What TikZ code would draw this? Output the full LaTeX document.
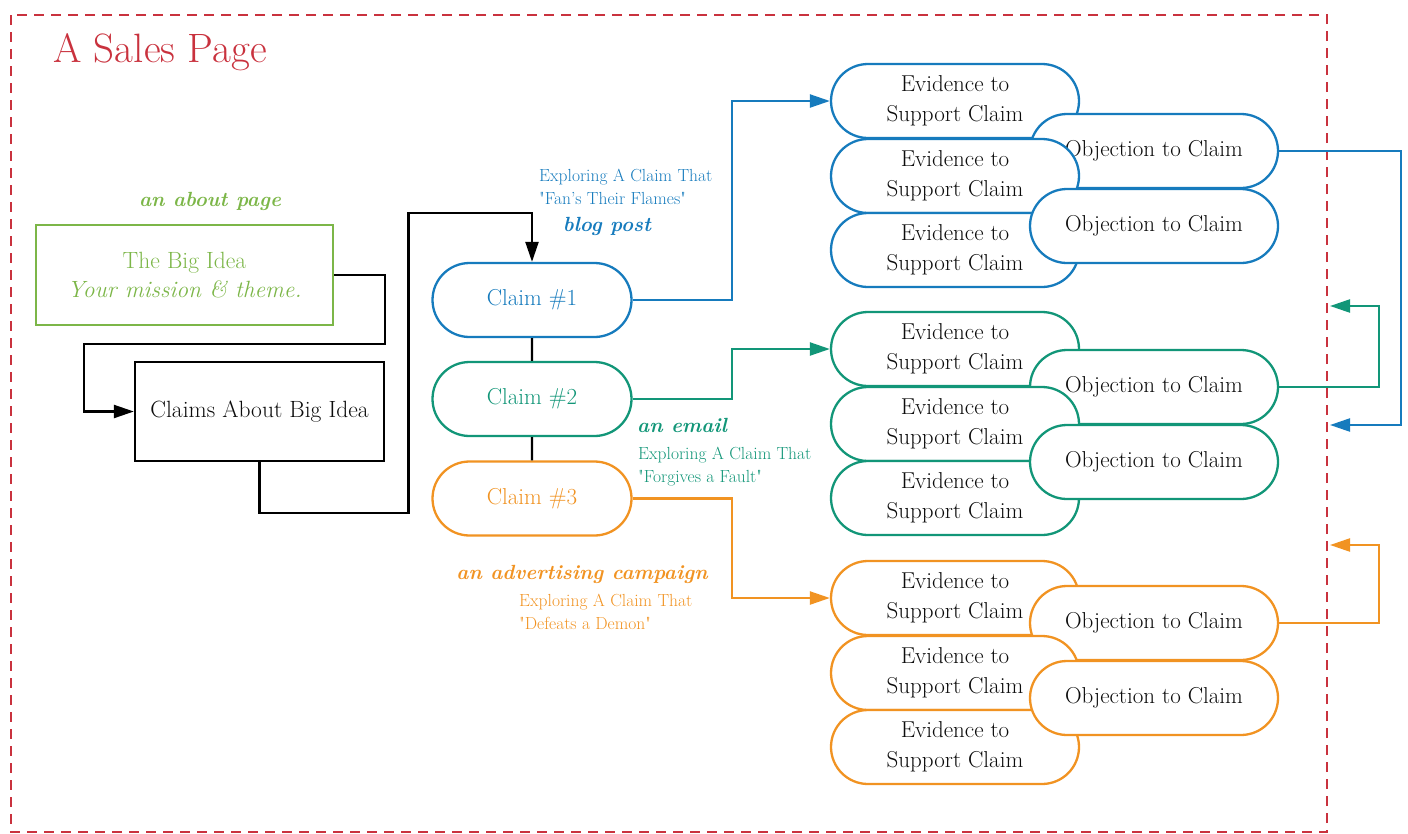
\documentclass[tikz,border=0pt]{standalone}
\usepackage{tikz}
\usetikzlibrary{arrows.meta}
\usetikzlibrary{positioning}
\usetikzlibrary{shapes.misc}
\usetikzlibrary{calc}

\definecolor{cblue}{RGB}{22,123,189}
\definecolor{cteal}{RGB}{18,150,120}
\definecolor{corange}{RGB}{241,147,34}
\definecolor{cgreen}{RGB}{124,182,72}
\definecolor{cred}{RGB}{201,50,62}
\definecolor{ctext}{RGB}{12,12,12}

\tikzset{
  pill/.style={rounded rectangle,fill=white,line width=2.3pt,minimum width=248pt,minimum height=74pt,inner sep=0pt,align=center,text=ctext,font=\fontsize{23}{30}\selectfont},
  claimpill/.style={pill,minimum width=199pt},
  bigbox/.style={rectangle,line width=2.3pt,inner sep=0pt,align=center,font=\fontsize{23.5}{29}\selectfont},
  kind/.style={font=\fontsize{20.5}{24}\selectfont\bfseries\itshape},
  note/.style={align=left,anchor=north west,inner sep=0pt,font=\fontsize{17.5}{22.5}\selectfont},
  link/.style={line width=2.3pt,-{Triangle[length=20pt,width=13pt]}}
}

\begin{document}
\begin{tikzpicture}[line cap=butt,line join=miter,x=1pt,y=-1pt]
\useasboundingbox (0,0) rectangle (1408,833);
\draw[cred,line width=2pt,dash pattern=on 10pt off 7pt] (11,15) rectangle (1327,832);
\node[cred,anchor=west,inner sep=0pt,font=\fontsize{41}{42}\selectfont] (title) at (53,52) {A Sales Page};

% big idea and claims
\node[bigbox,draw=cgreen,text=cgreen,minimum width=297pt,minimum height=100pt] (idea) at (184.5,275) {The Big Idea\\\itshape Your mission \& theme.};
\node[kind,text=cgreen] (about) at (210,201) {an about page};
\node[bigbox,draw=black,text=ctext,minimum width=249pt,minimum height=99pt] (claims) at (259.5,411.5) {Claims About Big Idea};

\node[claimpill,draw=cblue,text=cblue] (claim1) at (532,300) {Claim \#1};
\node[claimpill,draw=cteal,text=cteal] (claim2) at (532,399) {Claim \#2};
\node[claimpill,draw=corange,text=corange] (claim3) at (532,498.5) {Claim \#3};
\draw[line width=2.3pt] (claim1) -- (claim2) (claim2) -- (claim3);

\draw[link] (idea.east) -| ++(51,69) -| ($(claims.west)+(-50,0)$) -- (claims.west);
\draw[link] (claims.south) -- ++(0,51) -| ++(149,-300) -| (claim1.north);

% labels
\node[note,text=cblue] (n1) at (539,169) {Exploring A Claim That\\\textquotedbl Fan's Their Flames\textquotedbl};
\node[kind,text=cblue] (k1) at (607,226) {blog post};
\node[kind,text=cteal] (k2) at (682,425) {an email};
\node[note,text=cteal] (n2) at (638,447) {Exploring A Claim That\\\textquotedbl Forgives a Fault\textquotedbl};
\node[kind,text=corange] (k3) at (582,574) {an advertising campaign};
\node[note,text=corange] (n3) at (519,594) {Exploring A Claim That\\\textquotedbl Defeats a Demon\textquotedbl};

% evidence and objections
\foreach \g/\col/\ey/\oy in {a/cblue/101/151, b/cteal/349/387, c/corange/598/623}{
  \node[pill,draw=\col] (\g-e1) at (955,\ey) {Evidence to\\Support Claim};
  \node[pill,draw=\col] (\g-o1) at (1154,\oy) {Objection to Claim};
  \node[pill,draw=\col] (\g-e2) at (955,{\ey+75}) {Evidence to\\Support Claim};
  \node[pill,draw=\col] (\g-e3) at (955,{\ey+149}) {Evidence to\\Support Claim};
  \node[pill,draw=\col] (\g-o2) at (1154,{\oy+75}) {Objection to Claim};
}

\draw[link,cblue] (claim1.east) -- ++(99,0) |- (a-e1.west);
\draw[link,cteal] (claim2.east) -- ++(99,0) |- (b-e1.west);
\draw[link,corange] (claim3.east) -- ++(99,0) |- (c-e1.west);

\coordinate (backa) at (1330,425);
\coordinate (backb) at (1330,306);
\coordinate (backc) at (1330,545);
\draw[link,cblue] (a-o1.east) -- ++(122,0) |- (backa);
\draw[link,cteal] (b-o1.east) -- ++(100,0) |- (backb);
\draw[link,corange] (c-o1.east) -- ++(100,0) |- (backc);
\end{tikzpicture}
\end{document}
